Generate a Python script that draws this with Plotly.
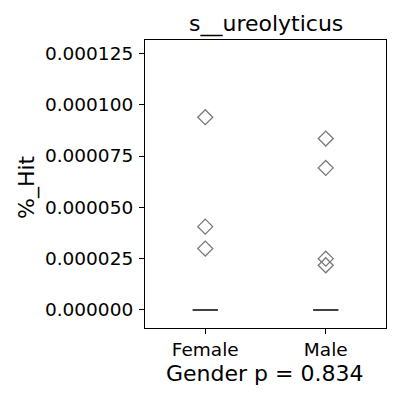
import plotly.graph_objects as go

categories = ["Female", "Male"]
medians = [0.0, 0.0]
outliers = [
    [9.39e-05, 4.06e-05, 2.99e-05],
    [8.35e-05, 6.92e-05, 2.50e-05, 2.18e-05],
]
yticks = [0.0, 0.000025, 0.00005, 0.000075, 0.0001, 0.000125]
yticklabels = ["0.000000", "0.000025", "0.000050", "0.000075", "0.000100", "0.000125"]

FONT = "DejaVu Sans"
TICK = 18.5
LAB = 22
fig = go.Figure()

half = 0.105
for i, (cat, med, outs) in enumerate(zip(categories, medians, outliers)):
    fig.add_trace(go.Scatter(
        x=[i - half, i + half], y=[med, med], mode="lines",
        line=dict(color="black", width=1.5), showlegend=False, hoverinfo="skip"))
    fig.add_trace(go.Scatter(
        x=[i] * len(outs), y=outs, mode="markers",
        marker=dict(symbol="diamond-open", size=11.5, color="#777777",
                    line=dict(width=1.3, color="#777777")),
        showlegend=False, name=cat))

# page body has an 8px margin; compensate so the plot lands where the reference has it
fig.update_layout(
    width=392, height=392,
    margin=dict(l=137, r=14, t=32, b=72),
    plot_bgcolor="white", paper_bgcolor="white",
    font=dict(family=FONT, color="black", size=TICK),
    xaxis=dict(range=[-0.5, 1.5], tickvals=[0, 1], ticktext=categories,
               ticks="outside", ticklen=5, tickcolor="black", showgrid=False,
               zeroline=False, showline=True, linecolor="black", linewidth=1.2,
               mirror=True, tickfont=dict(size=TICK), automargin=False),
    yaxis=dict(range=[-0.00000877, 0.0001315], tickvals=yticks, ticktext=yticklabels,
               ticks="outside", ticklen=5, tickcolor="black", showgrid=False,
               zeroline=False, showline=True, linecolor="black", linewidth=1.2,
               mirror=True, tickfont=dict(size=TICK), automargin=False,
               ticklabelstandoff=2),
)
pw, ph = 241, 288
def py(ypix):
    return (328 - ypix) / ph
def px(xpix):
    return (xpix - 145) / pw
fig.add_annotation(text="s__ureolyticus", x=px(266), y=py(24), xref="paper", yref="paper",
                   showarrow=False, font=dict(size=LAB), xanchor="center", yanchor="middle")
fig.add_annotation(text="Gender p = 0.834", x=px(264), y=py(373), xref="paper", yref="paper",
                   showarrow=False, font=dict(size=LAB), xanchor="center", yanchor="middle")
fig.add_annotation(text="%_Hit", x=px(27), y=py(187), xref="paper", yref="paper",
                   showarrow=False, font=dict(size=LAB), textangle=-90,
                   xanchor="center", yanchor="middle")

fig.write_html("out.html")
